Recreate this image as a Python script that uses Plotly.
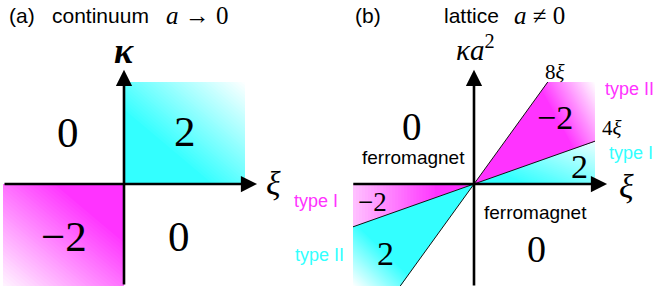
import plotly.graph_objects as go

# ---------------- data (schematic phase diagram) ----------------
# box extent of each panel in axis units (xi, kappa)
box_extent = [1.0, 1.0]
# panel (a): continuum, winding number per quadrant (Q2, Q1, Q3, Q4)
winding_a = ["0", "2", "\u22122", "0"]
# panel (b): lattice, schematic slopes of phase boundaries through the origin
slope_8xi = 1.64   # boundary labelled 8ξ
slope_4xi = 0.42   # boundary labelled 4ξ
winding_b = ["0", "\u22122", "2", "\u22122", "2", "0"]
boundary_labels = ["8<i>\u03be</i>", "4<i>\u03be</i>"]
type_labels = ["type II", "type I", "type I", "type II"]

CYAN = (51, 255, 255)
MAGENTA = (255, 51, 255)
SANS = "Liberation Sans"
SERIF = "Liberation Serif"

# pixel layout helpers
W, H = 655, 295
PXU, PYU = 121.0, 102.0
OA, OB, OY = 124.0, 474.0, 184.0


def clip(poly, a, b, c):
    """keep part of convex polygon where a*x+b*y+c >= 0"""
    out = []
    n = len(poly)
    for i in range(n):
        P, Q = poly[i], poly[(i + 1) % n]
        fp = a * P[0] + b * P[1] + c
        fq = a * Q[0] + b * Q[1] + c
        if fp >= 0:
            out.append(P)
        if (fp >= 0) != (fq >= 0):
            t = fp / (fp - fq)
            out.append((P[0] + t * (Q[0] - P[0]), P[1] + t * (Q[1] - P[1])))
    return out


def mix(col, w):
    w = min(max(w, 0.0), 1.0)
    r, g, b = (round(c + (255 - c) * w) for c in col)
    return f"rgb({r},{g},{b})"


fig = go.Figure()


def shaded_region(poly, col, grad, xa, n=40):
    ga, gb, gc = grad  # whiteness w = ga*x + gb*y + gc
    for k in range(n + 1):
        if k == 0:
            p = poly
            color = mix(col, 0.0)
        else:
            thr = k / n
            p = clip(poly, ga, gb, gc - thr)
            color = mix(col, (k + 0.5) / n) if k < n else "white"
        if len(p) < 3:
            continue
        xs = [q[0] for q in p] + [p[0][0]]
        ys = [q[1] for q in p] + [p[0][1]]
        fig.add_trace(go.Scatter(x=xs, y=ys, fill="toself", fillcolor=color,
                                 mode="lines", line=dict(width=0, color=color),
                                 hoverinfo="skip", showlegend=False,
                                 xaxis=xa, yaxis="y"))


X, K = box_extent
# panel (a)
shaded_region([(0, 0), (X, 0), (X, K), (0, K)], CYAN, (0.77, 0.77, -0.54), "x")
shaded_region([(0, 0), (-X, 0), (-X, -K), (0, -K)], MAGENTA, (-0.65, -0.65, -0.35), "x")

# panel (b)
x8 = K / slope_8xi
y4 = slope_4xi * X
shaded_region([(0, 0), (X, 0), (X, y4)], CYAN, (0.6, 1.31, -0.25), "x2")
shaded_region([(0, 0), (X, y4), (X, K), (x8, K)], MAGENTA, (2.05, 0.95, -2.0), "x2")
shaded_region([(0, 0), (-X, 0), (-X, -y4)], MAGENTA, (-1.0, 0.0, -0.3), "x2")
shaded_region([(0, 0), (-X, -y4), (-X, -K), (-x8, -K)], CYAN, (-1.8, -1.55, -2.35), "x2")

# boundary lines
for (x0, y0, x1, y1) in [(-x8, -K, x8, K), (-X, -y4, X, y4)]:
    fig.add_trace(go.Scatter(x=[x0, x1], y=[y0, y1], mode="lines",
                             line=dict(color="#111", width=1),
                             hoverinfo="skip", showlegend=False,
                             xaxis="x2", yaxis="y"))

ann = []


def axis_arrow(xr, x0, y0, x1, y1):
    ann.append(dict(x=x1, y=y1, ax=x0, ay=y0, xref=xr, yref="y", axref=xr, ayref="y",
                    text="", showarrow=True, arrowhead=2, arrowsize=1.25,
                    arrowwidth=2.6, arrowcolor="black", standoff=0))


def px_to(xr, px, py):
    o = OA if xr == "x" else OB
    return (px - o) / PXU, (OY - py) / PYU


def label(xr, px, py, text, size, family=SERIF, color="black", xanchor="center"):
    x, y = px_to(xr, px, py)
    ann.append(dict(x=x, y=y, xref=xr, yref="y", text=text, showarrow=False,
                    xanchor=xanchor, yanchor="middle",
                    font=dict(family=family, size=size, color=color)))


# axes
axis_arrow("x", -X, 0, 1.1, 0)
axis_arrow("x", 0, -K, 0, 1.12)
axis_arrow("x2", -1.01, 0, 1.1, 0)
axis_arrow("x2", 0, -1.01, 0, 1.12)

# panel (a) labels
label("x", 7, 15, "(a)", 21, SANS, xanchor="left")
label("x", 50, 15, "continuum", 21, SANS, xanchor="left")
label("x", 164, 15, "<i>a</i> \u2192 0", 25, SERIF, xanchor="left")
label("x", 124, 51, "<b><i>\u03ba</i></b>", 36)
label("x", 273, 183, "<i>\u03be</i>", 34)
label("x", 68, 132, winding_a[0], 43)
label("x", 185, 131, winding_a[1], 43)
label("x", 64, 236, winding_a[2], 43)
label("x", 179, 236, winding_a[3], 43)

# panel (b) labels
label("x2", 353, 15, "(b)", 21, SANS, xanchor="left")
label("x2", 442, 15, "lattice", 21, SANS, xanchor="left")
label("x2", 512, 15, "<i>a</i> \u2260 0", 25, SERIF, xanchor="left")
label("x2", 475, 48, "<i>\u03baa</i><sup>2</sup>", 29)
label("x2", 626, 186, "<i>\u03be</i>", 34)
label("x2", 555, 72, boundary_labels[0], 21)
label("x2", 612, 128, boundary_labels[1], 21)
label("x2", 603, 89, type_labels[0], 18, SANS, "#ff33ff", "left")
label("x2", 607, 153, type_labels[1], 18, SANS, "#33ffff", "left")
label("x2", 340, 201, type_labels[2], 18, SANS, "#ff33ff", "right")
label("x2", 346, 255, type_labels[3], 18, SANS, "#33ffff", "right")
label("x2", 413, 157, "ferromagnet", 19, SANS)
label("x2", 535, 212, "ferromagnet", 19, SANS)
label("x2", 412, 126, winding_b[0], 39)
label("x2", 555, 117, winding_b[1], 34)
label("x2", 579, 166, winding_b[2], 34)
label("x2", 372, 202, winding_b[3], 27)
label("x2", 385, 253, winding_b[4], 34)
label("x2", 536, 249, winding_b[5], 38)

ax_common = dict(visible=False, fixedrange=True)
fig.update_layout(
    width=W, height=H, margin=dict(l=0, r=0, t=0, b=0),
    paper_bgcolor="white", plot_bgcolor="white",
    xaxis=dict(domain=[0, 0.5], range=[-OA / PXU, (W / 2 - OA) / PXU], anchor="y", **ax_common),
    xaxis2=dict(domain=[0.5, 1], range=[(W / 2 - OB) / PXU, (W - OB) / PXU], anchor="y", **ax_common),
    yaxis=dict(domain=[0, 1], range=[(OY - H) / PYU, OY / PYU], **ax_common),
    annotations=ann,
)

fig.write_html("out.html", config={"displayModeBar": False},
               post_script="document.body.style.margin='0';document.body.style.overflow='hidden';")
